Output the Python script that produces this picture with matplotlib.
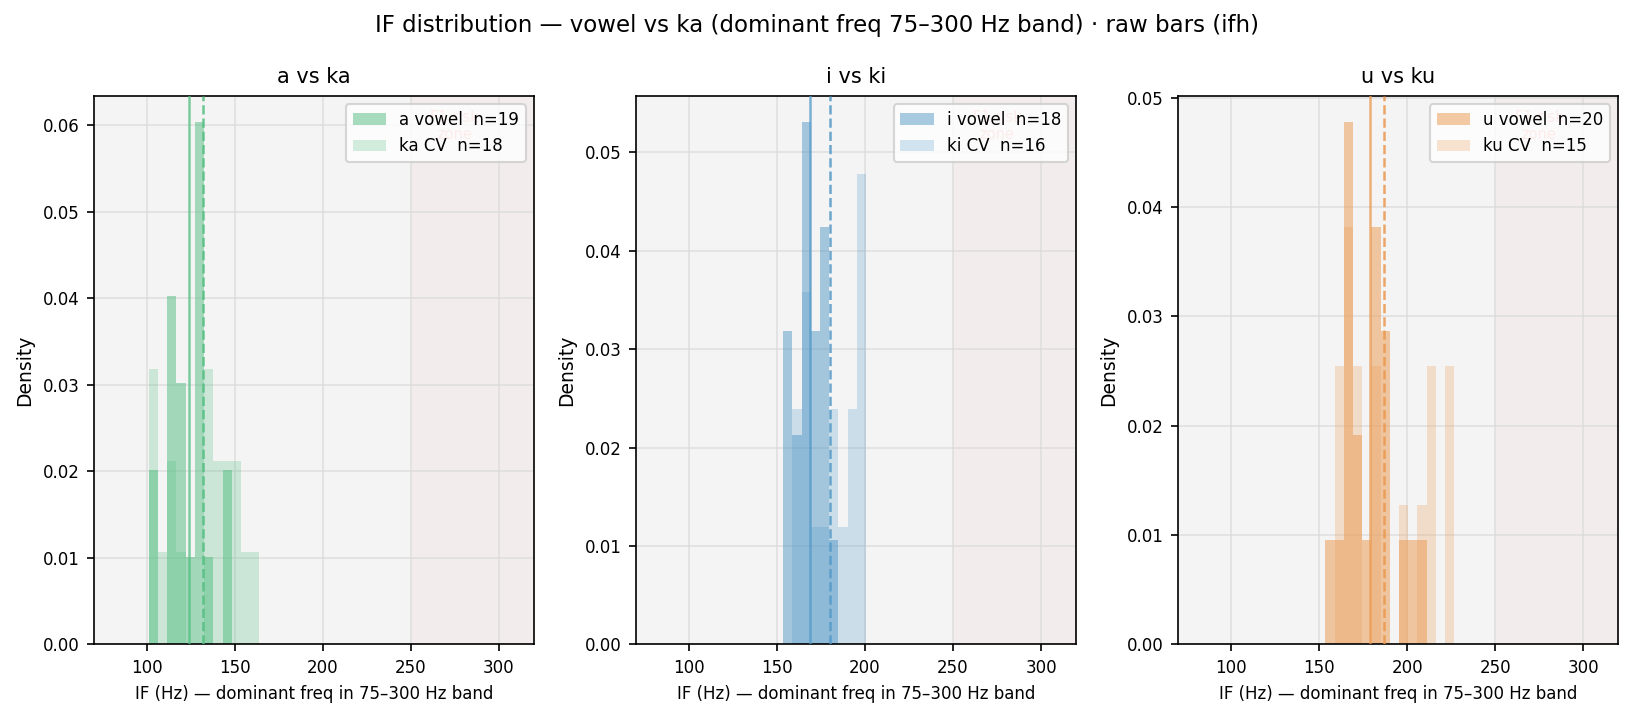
import numpy as np
import matplotlib
matplotlib.use("Agg")
import matplotlib.pyplot as plt

# Shared histogram bin edges (Hz)
bin_edges = np.linspace(75, 300, 44)

# Panel definitions
titles = ["a vs ka", "i vs ki", "u vs ku"]
vowel_labels = ["a vowel", "i vowel", "u vowel"]
cv_labels = ["ka CV", "ki CV", "ku CV"]
colors = ["#52be80", "#5499c7", "#eb984e"]

# Counts per bin, starting at the given bin index
vowel_start = [5, 15, 15]
vowel_counts = [
    [2, 0, 4, 3, 1, 6, 1, 0, 2],
    [3, 2, 5, 3, 4, 1],
    [1, 1, 5, 2, 1, 4, 3, 0, 1, 1, 1],
]
cv_start = [5, 15, 15]
cv_counts = [
    [3, 1, 2, 1, 0, 0, 3, 2, 2, 2, 1, 1],
    [0, 2, 3, 1, 1, 2, 1, 2, 4],
    [0, 2, 3, 2, 0, 2, 0, 0, 1, 0, 1, 2, 0, 2],
]
# Reference lines (Hz)
vowel_line = [123.9, 168.8, 179.0]
cv_line = [131.9, 180.1, 186.9]

fig, axes = plt.subplots(1, 3, figsize=(1634 / 150, 719 / 150), dpi=150)
fig.subplots_adjust(left=0.0575, right=0.9905, top=0.8665, bottom=0.104, wspace=0.232)

centers = (bin_edges[:-1] + bin_edges[1:]) / 2

for k, ax in enumerate(axes):
    ax.set_facecolor("#f4f4f4")
    c = colors[k]
    vc = np.array(vowel_counts[k], dtype=float)
    cc = np.array(cv_counts[k], dtype=float)
    vx = centers[vowel_start[k]:vowel_start[k] + len(vc)]
    cx = centers[cv_start[k]:cv_start[k] + len(cc)]
    nv = int(vc.sum())
    nc = int(cc.sum())
    ax.axvspan(250, 320, color="#e74c3c", alpha=0.045, lw=0, zorder=0)
    ax.text(275, 0.975, "F1 risk\nzone", transform=ax.get_xaxis_transform(),
            ha="center", va="top", fontsize=7, color="#e74c3c", alpha=0.45, zorder=1)
    ax.hist(vx, bins=bin_edges, weights=vc, density=True, color=c, alpha=0.5,
            label=f"{vowel_labels[k]}  n={nv}", zorder=2)
    ax.hist(cx, bins=bin_edges, weights=cc, density=True, color=c, alpha=0.25,
            label=f"{cv_labels[k]}  n={nc}", zorder=2)
    ax.axvline(vowel_line[k], color=c, lw=1.2, alpha=0.75, zorder=3)
    ax.axvline(cv_line[k], color=c, lw=1.2, ls="--", alpha=0.85, zorder=3)
    ax.set_xlim(70, 320)
    ax.grid(True, color="#d8d8d8", lw=0.8, alpha=0.7)
    ax.set_axisbelow(True)
    ax.set_title(titles[k], fontsize=10)
    ax.set_xlabel("IF (Hz) — dominant freq in 75–300 Hz band", fontsize=8)
    ax.set_ylabel("Density", fontsize=9)
    ax.tick_params(labelsize=8)
    leg = ax.legend(loc="upper right", fontsize=8)
    leg.set_zorder(5)

fig.suptitle("IF distribution — vowel vs ka (dominant freq 75–300 Hz band) · raw bars (ifh)",
             fontsize=11, y=0.98)

fig.savefig("out.png", dpi=150)
